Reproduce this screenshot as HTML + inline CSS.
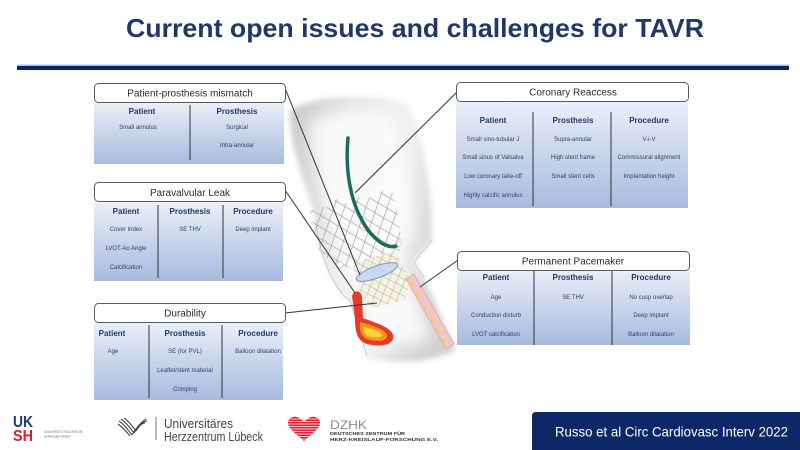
<!DOCTYPE html>
<html><head><meta charset="utf-8"><style>
html,body{margin:0;padding:0;background:#fff;width:800px;height:450px;overflow:hidden}
svg{display:block}
text{font-family:"Liberation Sans",Arial,sans-serif}
.t{font-size:10px;fill:#2b2b2b;text-anchor:middle}
.h{font-size:8px;font-weight:bold;fill:#1f3864;text-anchor:middle}
.i{font-size:6px;fill:#2d3f66;text-anchor:middle}
</style></head><body>
<svg width="800" height="450" viewBox="0 0 800 450" xmlns="http://www.w3.org/2000/svg">
<defs>
<linearGradient id="tg" x1="0" y1="0" x2="0" y2="1">
<stop offset="0" stop-color="#eaeff8"/><stop offset="1" stop-color="#a7badf"/>
</linearGradient>
<linearGradient id="ag" x1="0" y1="0" x2="1" y2="0.3">
<stop offset="0" stop-color="#c9c9c9"/><stop offset="0.35" stop-color="#e6e6e6"/><stop offset="0.7" stop-color="#f2f2f2"/><stop offset="1" stop-color="#d0d0d0"/>
</linearGradient>
<filter id="bl" x="-0.2" y="-0.2" width="1.4" height="1.4"><feGaussianBlur stdDeviation="3"/></filter>
<filter id="bl2" x="-0.2" y="-0.2" width="1.4" height="1.4"><feGaussianBlur stdDeviation="7"/></filter>
<pattern id="mesh" width="13" height="16" patternUnits="userSpaceOnUse" patternTransform="rotate(-20)">
<path d="M0,0 L13,16 M13,0 L0,16" stroke="#9a9a9a" stroke-width="0.6" fill="none"/>
</pattern>
<pattern id="mesh2" width="10" height="11" patternUnits="userSpaceOnUse" patternTransform="rotate(-20)">
<path d="M0,0 L10,11 M10,0 L0,11" stroke="#bdbb95" stroke-width="0.6" fill="none"/>
</pattern>
<clipPath id="c1"><path d="M310,212 L318,205 L326,208 L336,199 L346,203 L360,196 L372,198 L384,190 L392,192 L398,215 L402,245 L395,262 L380,268 L350,268 L330,262 L318,248 Z"/></clipPath>
<clipPath id="c2"><path d="M352,262 L395,252 L410,280 L405,300 L372,308 L360,292 Z"/></clipPath>
<clipPath id="heart"><path d="M304,441 C296,434 288,428 288,423 C288,418 293,416 297,417 C300,418 302,420 304,422 C306,420 308,418 311,417 C315,416 320,418 320,423 C320,428 312,434 304,441 Z"/></clipPath>
</defs>

<!-- Title -->
<text x="126" y="37" font-size="26" font-weight="bold" fill="#1f3864" textLength="578" lengthAdjust="spacingAndGlyphs">Current open issues and challenges for TAVR</text>
<rect x="17" y="64.5" width="772" height="1.5" fill="#a9bddc"/>
<rect x="17" y="66" width="772" height="4" fill="#0c2461"/>

<!-- Aorta illustration -->
<g filter="url(#bl)">
<path d="M290,112 C300,96 382,90 410,106 C424,140 432,190 432,240 L414,262 L424,278 L456,350 C430,363 390,365 366,358 L350,300 L345,297 C330,280 318,250 316,220 C305,180 290,150 290,112 Z" fill="url(#ag)"/>
</g>
<path d="M310,124 C326,110 372,106 392,118 C404,146 412,190 412,232 L400,256 L408,278 L432,338 C416,346 392,346 376,342 L360,298 C342,278 332,250 330,220 C320,184 310,154 310,124 Z" fill="#fdfdfd" opacity="0.85" filter="url(#bl2)"/>
<path d="M345,297 L350,300 L367,356" stroke="#c8c8c8" stroke-width="1" fill="none"/>
<path d="M316,220 C318,250 330,280 345,297" stroke="#cfcfcf" stroke-width="1.2" fill="none"/>
<path d="M432,240 L414,262 L424,278" stroke="#cdcdcd" stroke-width="1" fill="none"/>

<!-- stent mesh -->
<rect x="300" y="180" width="120" height="100" fill="url(#mesh)" clip-path="url(#c1)"/>
<rect x="340" y="240" width="80" height="80" fill="#f3f2e4" opacity="0.8" clip-path="url(#c2)"/>
<rect x="340" y="240" width="80" height="80" fill="url(#mesh2)" clip-path="url(#c2)"/>

<!-- pink pacemaker strip -->
<path d="M406,279 L414,274 L454,344 L446,349 Z" fill="#f0c6c6" stroke="#e0a8aa" stroke-width="0.8"/>
<g fill="#f2d046">
<ellipse cx="412" cy="284" rx="1.5" ry="2.1"/><ellipse cx="418" cy="296" rx="1.5" ry="2.1"/><ellipse cx="425" cy="308" rx="1.5" ry="2.1"/><ellipse cx="432" cy="320" rx="1.5" ry="2.1"/><ellipse cx="438" cy="331" rx="1.5" ry="2.1"/><ellipse cx="444" cy="341" rx="1.5" ry="2.1"/>
</g>

<!-- red PVL jet -->
<path d="M352,296 C354,289 362,290 362,298 L363,318 C372,322 390,326 393,335 C395,346 380,347 367,344 C357,341 355,331 355,318 Z" fill="#e63b26"/>
<path d="M360,322 C370,325 385,329 387,335 C388,342 376,342 367,339 C361,336 359,330 360,322 Z" fill="#f7941d"/>
<path d="M364,327 C372,329 381,331 382,335 C382,338 374,338 368,336 C364,334 363,331 364,327 Z" fill="#ffd23a"/>

<!-- green catheter -->
<path d="M348,138 C345,170 350,205 368,230 C378,243 390,250 398,245" stroke="#1d6b5c" stroke-width="3.5" fill="none" stroke-linecap="round"/>
<circle cx="399" cy="244" r="2.5" fill="#fff" stroke="#bbb" stroke-width="0.6"/>
<circle cx="340" cy="265" r="3" fill="#fff" stroke="#bbb" stroke-width="0.6"/>

<!-- ellipse -->
<ellipse cx="377" cy="272" rx="22" ry="6" transform="rotate(-20 377 272)" fill="#c9d8ef" stroke="#7f97c2" stroke-width="1"/>

<!-- connector lines -->
<g stroke="#333" stroke-width="1" fill="none">
<line x1="285" y1="88" x2="360" y2="275"/>
<line x1="285" y1="190" x2="355" y2="293"/>
<line x1="285" y1="313" x2="377" y2="303"/>
<line x1="457" y1="92" x2="355" y2="193"/>
<line x1="458" y1="260" x2="420" y2="287"/>
</g>

<!-- Box 1: Patient-prosthesis mismatch -->
<rect x="94" y="103" width="190" height="61" fill="url(#tg)"/>
<rect x="94.5" y="83.5" width="191" height="19" rx="4" fill="#fff" stroke="#5a5a5a" stroke-width="1"/>
<text class="t" x="190" y="96.5">Patient-prosthesis mismatch</text>
<line x1="190" y1="105" x2="190" y2="160" stroke="#333" stroke-width="1"/>
<text class="h" x="142" y="114">Patient</text>
<text class="h" x="237" y="114">Prosthesis</text>
<text class="i" x="138" y="129">Small annulus</text>
<text class="i" x="237" y="129">Surgical</text>
<text class="i" x="237" y="147">Intra-annular</text>

<!-- Box 2: Paravalvular Leak -->
<rect x="94" y="203" width="189" height="78" fill="url(#tg)"/>
<rect x="94.5" y="182.5" width="191" height="19" rx="4" fill="#fff" stroke="#5a5a5a" stroke-width="1"/>
<text class="t" x="190" y="196">Paravalvular Leak</text>
<line x1="158" y1="205" x2="158" y2="278" stroke="#333" stroke-width="1"/>
<line x1="223" y1="205" x2="223" y2="278" stroke="#333" stroke-width="1"/>
<text class="h" x="126" y="214">Patient</text>
<text class="h" x="190" y="214">Prosthesis</text>
<text class="h" x="253" y="214">Procedure</text>
<text class="i" x="126" y="231">Cover Index</text>
<text class="i" x="126" y="250">LVOT-Ao Angle</text>
<text class="i" x="126" y="269">Calcification</text>
<text class="i" x="190" y="231">SE THV</text>
<text class="i" x="253" y="231">Deep implant</text>

<!-- Box 3: Durability -->
<rect x="94" y="323" width="189" height="77" fill="url(#tg)"/>
<rect x="94.5" y="303.5" width="191" height="19" rx="4" fill="#fff" stroke="#5a5a5a" stroke-width="1"/>
<text class="t" x="185" y="316.5">Durability</text>
<line x1="149" y1="325" x2="149" y2="398" stroke="#333" stroke-width="1"/>
<line x1="222" y1="325" x2="222" y2="398" stroke="#333" stroke-width="1"/>
<text class="h" x="112" y="336">Patient</text>
<text class="h" x="185" y="336">Prosthesis</text>
<text class="h" x="258" y="336">Procedure</text>
<text class="i" x="113" y="353">Age</text>
<text class="i" x="185" y="353">SE (for PVL)</text>
<text class="i" x="185" y="372">Leaflet/stent material</text>
<text class="i" x="185" y="391">Crimping</text>
<text class="i" x="258" y="353">Balloon dilatation</text>

<!-- Box 4: Coronary Reaccess -->
<rect x="456" y="102" width="232" height="106" fill="url(#tg)"/>
<rect x="456.5" y="82.5" width="232" height="19" rx="4" fill="#fff" stroke="#5a5a5a" stroke-width="1"/>
<text class="t" x="573" y="95.5">Coronary Reaccess</text>
<line x1="533" y1="112" x2="533" y2="206" stroke="#333" stroke-width="1"/>
<line x1="611" y1="112" x2="611" y2="206" stroke="#333" stroke-width="1"/>
<text class="h" x="493" y="123">Patient</text>
<text class="h" x="573" y="123">Prosthesis</text>
<text class="h" x="649" y="123">Procedure</text>
<text class="i" x="493" y="141">Small sino-tubular J</text>
<text class="i" x="493" y="159">Small sinus of Valsalva</text>
<text class="i" x="493" y="178">Low coronary take-off</text>
<text class="i" x="493" y="197">Highly calcific annulus</text>
<text class="i" x="573" y="141">Supra-annular</text>
<text class="i" x="573" y="159">High stent frame</text>
<text class="i" x="573" y="178">Small stent cells</text>
<text class="i" x="649" y="141">V-i-V</text>
<text class="i" x="649" y="159">Commissural alignment</text>
<text class="i" x="649" y="178">Implantation height</text>

<!-- Box 5: Permanent Pacemaker -->
<rect x="457" y="270" width="233" height="75" fill="url(#tg)"/>
<rect x="457.5" y="251.5" width="232" height="19" rx="4" fill="#fff" stroke="#5a5a5a" stroke-width="1"/>
<text class="t" x="573" y="264.5">Permanent Pacemaker</text>
<line x1="534" y1="271" x2="534" y2="345" stroke="#333" stroke-width="1"/>
<line x1="612" y1="271" x2="612" y2="345" stroke="#333" stroke-width="1"/>
<text class="h" x="496" y="280">Patient</text>
<text class="h" x="573" y="280">Prosthesis</text>
<text class="h" x="651" y="280">Procedure</text>
<text class="i" x="496" y="299">Age</text>
<text class="i" x="496" y="317">Conduction disturb</text>
<text class="i" x="496" y="336">LVOT calcification</text>
<text class="i" x="573" y="299">SE THV</text>
<text class="i" x="651" y="299">No cusp overlap</text>
<text class="i" x="651" y="317">Deep implant</text>
<text class="i" x="651" y="336">Balloon dilatation</text>

<!-- Footer: UKSH -->
<text x="13" y="427" font-size="16" font-weight="bold" fill="#1e3a6e" textLength="20" lengthAdjust="spacingAndGlyphs">UK</text>
<text x="13" y="441" font-size="16" font-weight="bold" fill="#d42027" textLength="20" lengthAdjust="spacingAndGlyphs">SH</text>
<text x="44" y="433" font-size="3.2" fill="#777">UNIVERSITÄTSKLINIKUM</text>
<text x="44" y="437.5" font-size="3.2" fill="#777">Schleswig-Holstein</text>

<!-- Herzzentrum logo -->
<g stroke="#444" stroke-width="1.1" fill="none">
<path d="M119,421 C124,424 128,430 132,435"/>
<path d="M121,419 C126,422 130,428 134,433"/>
<path d="M124,418 C129,421 132,426 136,431"/>
<path d="M118,424 C122,427 126,431 130,436"/>
<path d="M132,435 C136,428 140,423 146,419"/>
<path d="M134,433 C138,427 142,422 147,421"/>
<path d="M136,431 C139,426 142,423 145,423"/>
</g>
<line x1="156" y1="417" x2="156" y2="440" stroke="#555" stroke-width="0.8"/>
<text x="164" y="428" font-size="12.5" fill="#444" textLength="69" lengthAdjust="spacingAndGlyphs">Universitäres</text>
<text x="164" y="441" font-size="12.5" fill="#444" textLength="99" lengthAdjust="spacingAndGlyphs">Herzzentrum Lübeck</text>

<!-- DZHK -->
<g clip-path="url(#heart)">
<rect x="286" y="415" width="36" height="28" fill="#e3212f"/>
<g stroke="#fff" stroke-width="0.7">
<line x1="286" y1="419" x2="322" y2="419"/><line x1="286" y1="421.5" x2="322" y2="421.5"/><line x1="286" y1="424" x2="322" y2="424"/><line x1="286" y1="426.5" x2="322" y2="426.5"/><line x1="286" y1="429" x2="322" y2="429"/><line x1="286" y1="431.5" x2="322" y2="431.5"/><line x1="286" y1="434" x2="322" y2="434"/><line x1="286" y1="436.5" x2="322" y2="436.5"/><line x1="286" y1="439" x2="322" y2="439"/>
</g>
</g>
<text x="330" y="429" font-size="12" fill="#8a8a8a" textLength="37" lengthAdjust="spacingAndGlyphs">DZHK</text>
<text x="330" y="435" font-size="4.6" font-weight="bold" fill="#333" textLength="75" lengthAdjust="spacingAndGlyphs">DEUTSCHES ZENTRUM FÜR</text>
<text x="330" y="441" font-size="4.6" font-weight="bold" fill="#333" textLength="108" lengthAdjust="spacingAndGlyphs">HERZ-KREISLAUF-FORSCHUNG E.V.</text>

<!-- Citation box -->
<path d="M532,450 L532,416 Q532,412 536,412 L800,412 L800,450 Z" fill="#0c2866"/>
<text x="555" y="436.5" font-size="14" fill="#fff" textLength="233" lengthAdjust="spacingAndGlyphs">Russo et al Circ Cardiovasc Interv 2022</text>
</svg>
</body></html>
